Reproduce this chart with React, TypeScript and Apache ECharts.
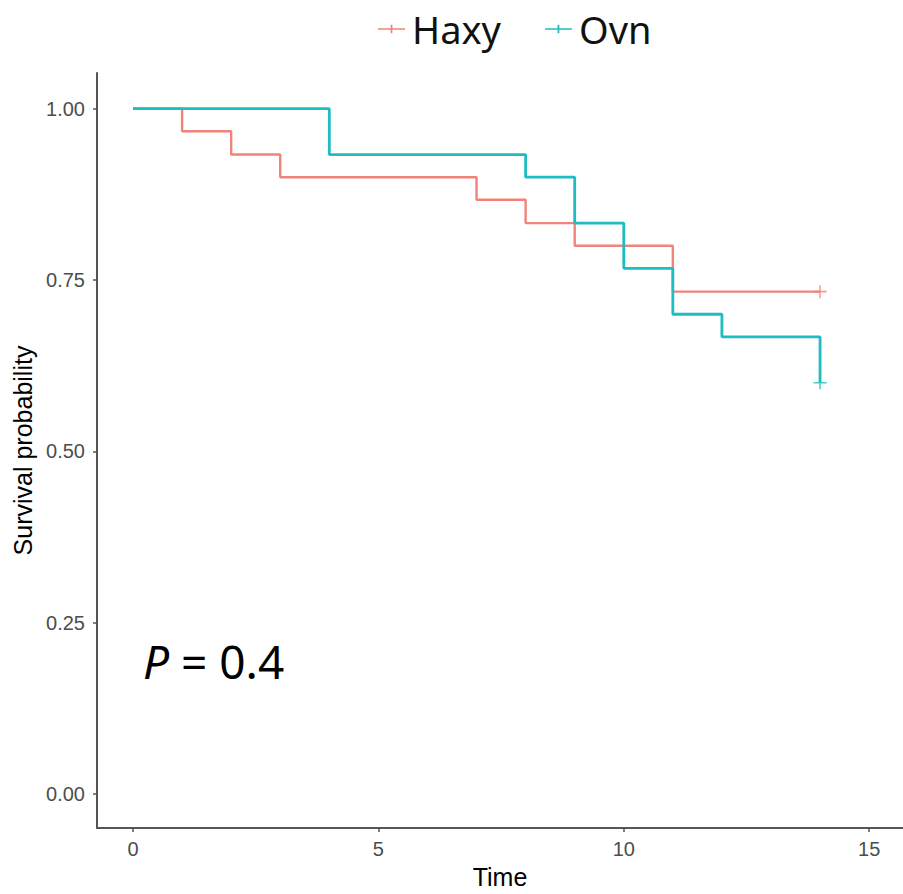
import React, { useEffect, useRef } from "react";
import * as echarts from "echarts";

const seriesNames = ["Haxy", "Ovn"];
const colors = ["#F0837B", "#1FBCC2"];
const haxy: [number, number][] = [
  [0, 1], [1, 0.967], [2, 0.933], [3, 0.9], [7, 0.867], [8, 0.833], [9, 0.8], [11, 0.733], [14, 0.733],
];
const ovn: [number, number][] = [
  [0, 1], [4, 0.933], [8, 0.9], [9, 0.833], [10, 0.767], [11, 0.7], [12, 0.667], [14, 0.6],
];
const haxyCensor: [number, number][] = [[14, 0.733]];
const ovnCensor: [number, number][] = [[14, 0.6]];
const xTicks = [0, 5, 10, 15];
const yTicks = [0, 0.25, 0.5, 0.75, 1];
const pValueText = "0.4";

const plusPath = "path://M0,4.4h10v1.2h-10z M4.4,0h1.2v10h-1.2z";
const legendIcon = "path://M0,5.2h28v1.6h-28z M13.1,1.5h1.8v9h-1.8z";

export default function App() {
  const ref = useRef<HTMLDivElement>(null);
  useEffect(() => {
    if (!ref.current) return;
    const chart = echarts.init(ref.current, null, { renderer: "svg" });
    const axisColor = "#555555";
    const labelStyle = { fontFamily: "Liberation Sans", fontSize: 20, color: "#4D4D4D" };
    chart.setOption({
      animation: false,
      backgroundColor: "#ffffff",
      grid: { left: 97, right: 0, top: 73, bottom: 61 },
      legend: {
        left: 378,
        top: 10,
        padding: 0,
        itemWidth: 27,
        itemHeight: 12,
        itemGap: 44,
        textStyle: { fontFamily: "Noto Sans", fontSize: 38, color: "#111", padding: [0, 0, 0, 2] },
        data: [
          { name: seriesNames[0], icon: legendIcon, itemStyle: { color: colors[0] } },
          { name: seriesNames[1], icon: legendIcon, itemStyle: { color: colors[1] } },
        ],
      },
      xAxis: {
        type: "value",
        min: -0.734,
        max: 15.69,
        name: "Time",
        nameLocation: "middle",
        nameGap: 36,
        nameTextStyle: { fontFamily: "Liberation Sans", fontSize: 25, color: "#000" },
        splitLine: { show: false },
        axisLine: { show: true, onZero: false, lineStyle: { color: axisColor, width: 2 } },
        axisTick: { show: true, length: 4, lineStyle: { color: axisColor, width: 1.5 }, customValues: xTicks },
        axisLabel: { ...labelStyle, margin: 11, customValues: xTicks },
      },
      yAxis: {
        type: "value",
        min: -0.0495,
        max: 1.052,
        name: "Survival probability",
        nameLocation: "middle",
        nameGap: 61,
        nameTextStyle: { fontFamily: "Liberation Sans", fontSize: 25, color: "#000" },
        splitLine: { show: false },
        axisLine: { show: true, onZero: false, lineStyle: { color: axisColor, width: 2 } },
        axisTick: { show: true, length: 4, lineStyle: { color: axisColor, width: 1.5 }, customValues: yTicks },
        axisLabel: {
          ...labelStyle,
          margin: 12,
          customValues: yTicks,
          formatter: (v: number) => v.toFixed(2),
        },
      },
      series: [
        {
          name: seriesNames[0],
          type: "line",
          step: "end",
          data: haxy,
          showSymbol: false,
          symbol: "none",
          itemStyle: { color: colors[0] },
          lineStyle: { color: colors[0], width: 2.4 },
        },
        {
          name: seriesNames[1],
          type: "line",
          step: "end",
          data: ovn,
          showSymbol: false,
          symbol: "none",
          itemStyle: { color: colors[1] },
          lineStyle: { color: colors[1], width: 2.8 },
        },
        {
          name: seriesNames[0],
          type: "scatter",
          data: haxyCensor,
          symbol: plusPath,
          symbolSize: 13,
          itemStyle: { color: colors[0] },
        },
        {
          name: seriesNames[1],
          type: "scatter",
          data: ovnCensor,
          symbol: plusPath,
          symbolSize: 13,
          itemStyle: { color: colors[1] },
        },
      ],
      graphic: [
        {
          type: "text",
          left: 143,
          top: 638,
          style: {
            text: "{i|P} = " + pValueText,
            font: "46px 'Noto Sans'",
            fill: "#000",
            rich: {
              i: { fontStyle: "italic", fontFamily: "Noto Sans", fontSize: 46, fill: "#000" },
            },
          },
        },
      ],
    });
    return () => chart.dispose();
  }, []);
  return (
    <div
      ref={ref}
      style={{ position: "fixed", left: 0, top: 0, width: 903, height: 894, background: "#fff" }}
    />
  );
}
